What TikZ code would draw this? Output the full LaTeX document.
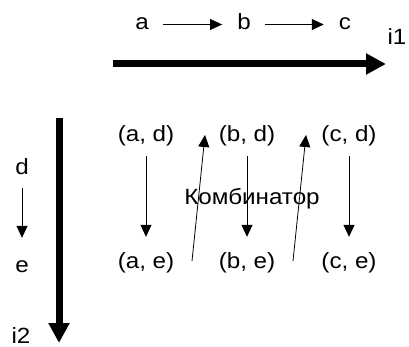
\documentclass[tikz,border=0pt]{standalone}
\usepackage{fontspec}
\setmainfont{Liberation Sans}[FakeStretch=1.1]
\usetikzlibrary{arrows.meta,positioning}
\tikzset{
  % Tekst-nodar
  lbl/.style={anchor=base,inner sep=2pt,text height=16pt,text depth=5pt,font=\fontsize{22}{26}\selectfont},
  % Kantar
  thin/.style={-{Triangle[length=12pt,width=11pt]},line width=0.8pt},
  slant/.style={-{Triangle[length=12pt,width=11pt]},line width=0.8pt},
  axis/.style={-{Triangle[length=20pt,width=20pt]},line width=7pt},
}

\begin{document}
\begin{tikzpicture}[x=1pt,y=-1pt]
  \useasboundingbox (0,0) rectangle (409,347);
  % rekkje a, b, c
  \node[lbl] (a) at (142,30) {a};
  \node[lbl] (b) at (244,30) {b};
  \node[lbl] (c) at (345,30) {c};
  \draw[thin,shorten <=12pt,shorten >=13pt] (a) -- (b);
  \draw[thin,shorten <=12pt,shorten >=13pt] (b) -- (c);
  \node[lbl] (i1) at (397,45) {i1};
  \coordinate (i1s) at (113,64);
  \coordinate (i1e) at (386,64);
  \draw[axis] (i1s) -- (i1e);
  % rekkje d, e
  \node[lbl] (d) at (22,175) {d};
  \node[lbl] (e) at (22,272) {e};
  \draw[thin,shorten <=6pt,shorten >=16pt] (d) -- (e);
  \node[lbl,text depth=1pt] (i2) at (21,343) {i2};
  \coordinate (i2s) at (59,118);
  \coordinate (i2e) at (59,343);
  \draw[axis] (i2s) -- (i2e);
  % par
  \node[lbl] (ad) at (146,142) {(a, d)};
  \node[lbl] (bd) at (247,142) {(b, d)};
  \node[lbl] (cd) at (349,142) {(c, d)};
  \node[lbl] (ae) at (146,268) {(a, e)};
  \node[lbl] (be) at (247,268) {(b, e)};
  \node[lbl] (ce) at (349,268) {(c, e)};
  \node[lbl] (komb) at (252,205) {Комбинатор};
  \draw[thin,shorten <=7pt,shorten >=13pt] (ad) -- (ae);
  \draw[thin,shorten <=7pt,shorten >=13pt] (bd) -- (be);
  \draw[thin,shorten <=7pt,shorten >=13pt] (cd) -- (ce);
  % attende til neste kolonne
  \coordinate (s1) at (192,261);
  \coordinate (t1) at (205,135);
  \coordinate (s2) at (293,261);
  \coordinate (t2) at (306,135);
  \draw[slant] (s1) -- (t1);
  \draw[slant] (s2) -- (t2);
\end{tikzpicture}
\end{document}
